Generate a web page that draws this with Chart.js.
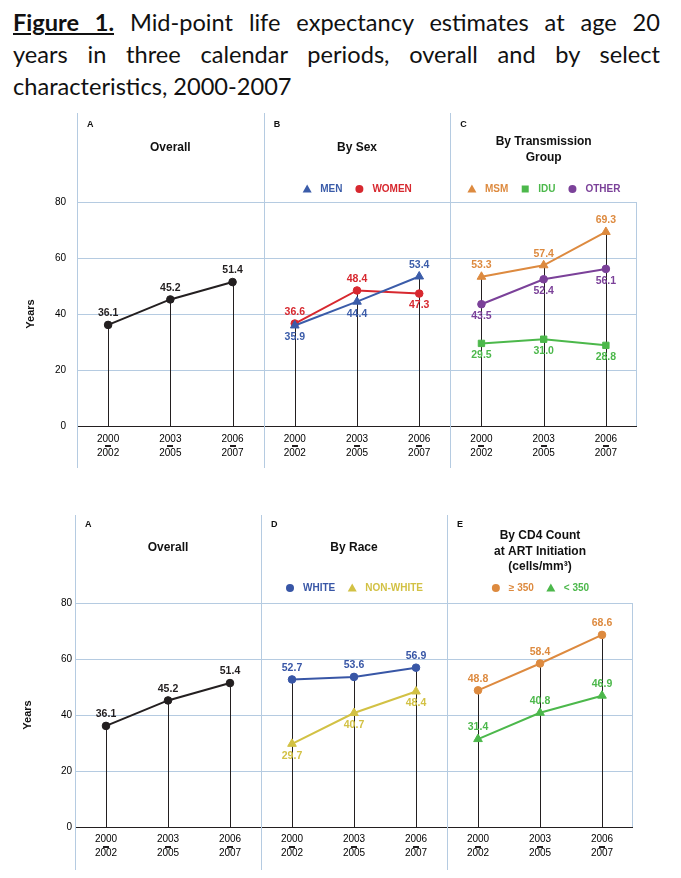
<!DOCTYPE html>
<html>
<head>
<meta charset="utf-8">
<script src="https://cdn.jsdelivr.net/npm/chart.js@4.4.1/dist/chart.umd.min.js"></script>
<style>
  body { margin: 0; background: #fff; width: 681px; height: 878px; position: relative; overflow: hidden; }
  #caption { position: absolute; left: 13px; top: 6px; width: 647px; font-family: Lato, 'Open Sans', sans-serif;
             font-size: 23.6px; line-height: 32px; color: #111; }
  #caption div { text-align: justify; text-align-last: justify; white-space: nowrap; }
  #caption div.last { text-align-last: left; }
  #caption b { text-decoration: underline; }
  canvas { position: absolute; left: 0; }
</style>
</head>
<body>
<div id="caption">
  <div><b>Figure 1.</b> Mid-point life expectancy estimates at age 20</div>
  <div>years in three calendar periods, overall and by select</div>
  <div class="last">characteristics, 2000-2007</div>
</div>
<canvas id="topChart" width="681" height="365" style="top:110px"></canvas>
<canvas id="bottomChart" width="681" height="370" style="top:505px"></canvas>
<script>
// ---- data ----
const PERIODS = [['2000', '2002'], ['2003', '2005'], ['2006', '2007']];
const Y_TICKS = [0, 20, 40, 60, 80];

// A: overall (same in both figures)
const overall = [36.1, 45.2, 51.4];
// B: by sex
const men = [35.9, 44.4, 53.4];
const women = [36.6, 48.4, 47.3];
// C: by transmission group
const msm = [53.3, 57.4, 69.3];
const idu = [29.5, 31.0, 28.8];
const otherGroup = [43.5, 52.4, 56.1];
// D: by race
const white = [52.7, 53.6, 56.9];
const nonWhite = [29.7, 40.7, 48.4];
// E: by CD4 count at ART initiation
const cd4High = [48.8, 58.4, 68.6];
const cd4Low = [31.4, 40.8, 46.9];

// ---- styling ----
const FONT = "'Liberation Sans', Arial, sans-serif";
const GRID = '#b5cbe1';
const INK = '#231f20';

// put a 3-value series into its panel slot of the 9-category axis
function inPanel(values, panel) {
  const out = new Array(9).fill(null);
  values.forEach((v, i) => { out[panel * 3 + i] = v; });
  return out;
}

function series(label, values, panel, color, style, labelSide, inLegend = true) {
  return {
    label,
    data: inPanel(values, panel),
    panel,
    inLegend,
    labelSide, // 'u' = value above point, 'd' = below
    borderColor: color,
    backgroundColor: color,
    pointBackgroundColor: color,
    pointBorderColor: color,
    pointStyle: style,
    pointRadius: style === 'triangle' ? 5 : (style === 'rect' ? 4.5 : 3.8),
    pointBorderWidth: 1,
    borderWidth: 2,
    spanGaps: false
  };
}

function drawMarker(ctx, style, x, y, color) {
  ctx.save();
  ctx.fillStyle = color;
  ctx.beginPath();
  if (style === 'triangle') {
    ctx.moveTo(x, y - 4.5);
    ctx.lineTo(x + 4.5, y + 3.5);
    ctx.lineTo(x - 4.5, y + 3.5);
    ctx.closePath();
  } else if (style === 'rect') {
    ctx.rect(x - 3.5, y - 3.5, 7, 7);
  } else {
    ctx.arc(x, y, 4, 0, Math.PI * 2);
  }
  ctx.fill();
  ctx.restore();
}

// panel frame, drop lines, value labels, titles and legends
const panelDeco = {
  id: 'panelDeco',
  beforeDatasetsDraw(chart, args, opts) {
    const { ctx, chartArea } = chart;
    const x = chart.scales.x, y = chart.scales.y;
    ctx.save();
    ctx.lineWidth = 1;
    ctx.strokeStyle = GRID;
    [-0.5, 2.5, 5.5].forEach(v => {
      const px = Math.round(x.getPixelForValue(v)) + 0.5;
      ctx.beginPath();
      ctx.moveTo(px, opts.vTop);
      ctx.lineTo(px, opts.vBottom);
      ctx.stroke();
    });
    const rx = Math.round(x.getPixelForValue(8.5)) - 0.5;
    ctx.beginPath();
    ctx.moveTo(rx, chartArea.top);
    ctx.lineTo(rx, chartArea.bottom);
    ctx.stroke();

    // drop lines from the highest point of each period
    ctx.strokeStyle = INK;
    for (let i = 0; i < 9; i++) {
      const vals = chart.data.datasets.map(d => d.data[i]).filter(v => v !== null);
      if (!vals.length) continue;
      const px = Math.round(x.getPixelForValue(i)) + 0.5;
      ctx.beginPath();
      ctx.moveTo(px, y.getPixelForValue(Math.max(...vals)));
      ctx.lineTo(px, chartArea.bottom);
      ctx.stroke();
    }
    ctx.restore();
  },
  afterDatasetsDraw(chart) {
    const { ctx } = chart;
    ctx.save();
    ctx.font = 'bold 10.5px ' + FONT;
    ctx.textAlign = 'center';
    ctx.textBaseline = 'middle';
    chart.data.datasets.forEach((ds, di) => {
      const meta = chart.getDatasetMeta(di);
      let k = 0;
      ds.data.forEach((v, i) => {
        if (v === null) return;
        const pt = meta.data[i];
        const side = ds.labelSide[k++];
        ctx.fillStyle = ds.borderColor;
        ctx.fillText(v.toFixed(1), pt.x, pt.y + (side === 'u' ? -11.5 : 12));
      });
    });
    ctx.restore();
  },
  afterDraw(chart, args, opts) {
    const { ctx, chartArea } = chart;
    const x = chart.scales.x;
    ctx.save();
    // short bars between the two years of each period
    ctx.fillStyle = INK;
    for (let i = 0; i < 9; i++) {
      const px = x.getPixelForValue(i);
      ctx.fillRect(Math.round(px - 3), Math.round(chartArea.bottom + opts.dashY), 6, 2);
    }
    opts.panels.forEach((p, pi) => {
      const left = x.getPixelForValue(pi * 3 - 0.5);
      const cx = x.getPixelForValue(pi * 3 + 1);
      ctx.fillStyle = '#111';
      ctx.textBaseline = 'middle';
      ctx.textAlign = 'left';
      ctx.font = 'bold 9px ' + FONT;
      ctx.fillText(p.letter, left + 10, opts.letterY);
      ctx.textAlign = 'center';
      ctx.font = 'bold 12px ' + FONT;
      const first = opts.titleY - (p.title.length - 1) * 6;
      p.title.forEach((t, li) => ctx.fillText(t, cx, first + li * 15.5));

      // legend
      const items = chart.data.datasets.filter(d => d.panel === pi && d.inLegend);
      if (!items.length) return;
      ctx.font = 'bold 10px ' + FONT;
      const widths = items.map(d => 18 + ctx.measureText(d.label).width);
      const total = widths.reduce((a, b) => a + b, 0) + 12 * (items.length - 1);
      let lx = cx - total / 2;
      ctx.textAlign = 'left';
      items.forEach((d, j) => {
        drawMarker(ctx, d.pointStyle, lx + 5, opts.legendY, d.borderColor);
        ctx.fillStyle = d.borderColor;
        ctx.fillText(d.label, lx + 18, opts.legendY + 0.5);
        lx += widths[j] + 12;
      });
    });
    ctx.restore();
  }
};

function makeChart(id, datasets, panels, geo) {
  return new Chart(document.getElementById(id), {
    type: 'line',
    data: { labels: [...PERIODS, ...PERIODS, ...PERIODS], datasets },
    options: {
      responsive: false,
      animation: false,
      devicePixelRatio: 1,
      layout: { padding: { top: geo.plotTop, right: geo.right, left: 0, bottom: 0 } },
      plugins: {
        legend: { display: false },
        tooltip: { enabled: false },
        panelDeco: Object.assign({ panels }, geo)
      },
      scales: {
        x: {
          offset: true,
          grid: { display: false, drawTicks: false },
          border: { display: false },
          ticks: {
            color: '#000', autoSkip: false, maxRotation: 0, padding: geo.xPad,
            font: { family: FONT, size: 10, lineHeight: 1.4 }
          },
          afterFit: s => { s.height = geo.xHeight; }
        },
        y: {
          min: 0,
          max: 80,
          afterBuildTicks: s => { s.ticks = Y_TICKS.map(v => ({ value: v })); },
          grid: { color: c => (c.tick && c.tick.value === 0 ? INK : GRID), drawTicks: false },
          border: { display: false },
          ticks: { color: '#000', padding: geo.yPad, font: { family: FONT, size: 10 } },
          title: {
            display: true, text: 'Years', color: '#111',
            font: { family: FONT, size: 11, weight: 'bold' },
            padding: { top: geo.titlePad, bottom: 0 }
          },
          afterFit: s => { s.width = geo.yWidth; }
        }
      }
    },
    plugins: [panelDeco]
  });
}

// ---- top figure: A, B, C ----
makeChart('topChart', [
  series('Overall', overall, 0, INK, 'circle', ['u', 'u', 'u'], false),
  series('MEN', men, 1, '#3b5ca9', 'triangle', ['d', 'd', 'u']),
  series('WOMEN', women, 1, '#d7282f', 'circle', ['u', 'u', 'd']),
  series('MSM', msm, 2, '#dd8a3f', 'triangle', ['u', 'u', 'u']),
  series('IDU', idu, 2, '#4cb84b', 'rect', ['d', 'd', 'd']),
  series('OTHER', otherGroup, 2, '#7b4199', 'circle', ['d', 'd', 'd'])
], [
  { letter: 'A', title: ['Overall'] },
  { letter: 'B', title: ['By Sex'] },
  { letter: 'C', title: ['By Transmission', 'Group'] }
], {
  plotTop: 92, right: 44, xHeight: 49, yWidth: 77, xPad: 6, yPad: 11, titlePad: 24,
  vTop: 3, vBottom: 358, letterY: 15, titleY: 38, legendY: 79, dashY: 19
});

// ---- bottom figure: A, D, E ----
makeChart('bottomChart', [
  series('Overall', overall, 0, INK, 'circle', ['u', 'u', 'u'], false),
  series('WHITE', white, 1, '#3856a6', 'circle', ['u', 'u', 'u']),
  series('NON-WHITE', nonWhite, 1, '#d2c144', 'triangle', ['d', 'd', 'd']),
  series('\u2265 350', cd4High, 2, '#dd8a3f', 'circle', ['u', 'u', 'u']),
  series('< 350', cd4Low, 2, '#4cb84b', 'triangle', ['u', 'u', 'u'])
], [
  { letter: 'A', title: ['Overall'] },
  { letter: 'D', title: ['By Race'] },
  { letter: 'E', title: ['By CD4 Count', 'at ART Initiation', '(cells/mm\u00b3)'] }
], {
  plotTop: 98, right: 48, xHeight: 48, yWidth: 75, xPad: 5, yPad: 3, titlePad: 21,
  vTop: 10, vBottom: 365, letterY: 20, titleY: 43, legendY: 83, dashY: 18.5
});
</script>
</body>
</html>
